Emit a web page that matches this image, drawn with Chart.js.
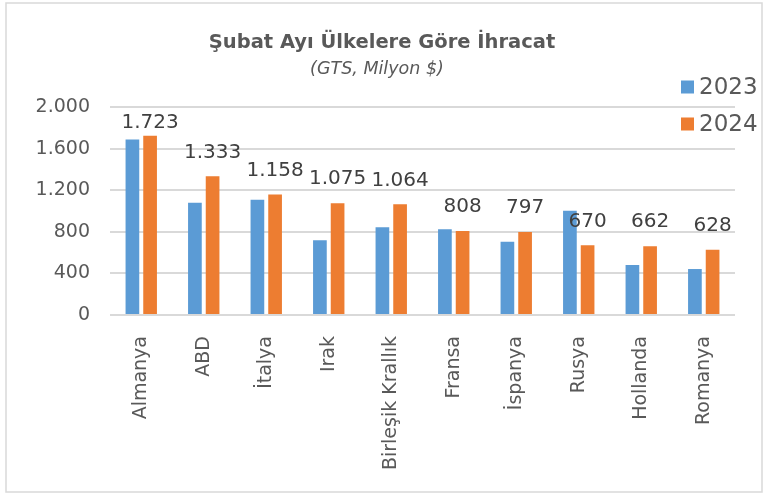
<!DOCTYPE html>
<html lang="tr">
<head>
<meta charset="utf-8">
<title>Şubat Ayı Ülkelere Göre İhracat</title>
<script src="https://cdn.jsdelivr.net/npm/chart.js@4.4.1/dist/chart.umd.min.js"></script>
<style>
  html, body { margin: 0; padding: 0; background: #fff; }
  #wrap { width: 771px; height: 495px; }
</style>
</head>
<body>
<div id="wrap"><canvas id="chart" width="771" height="495"></canvas></div>
<script>
'use strict';

// ── Data ─────────────────────────────────────────────────────────
const countries   = ['Almanya', 'ABD', 'İtalya', 'Irak', 'Birleşik Krallık', 'Fransa', 'İspanya', 'Rusya', 'Hollanda', 'Romanya'];
const exports2023 = [1688, 1080, 1109, 718, 843, 824, 705, 1003, 481, 442];
const exports2024 = [1723, 1333, 1158, 1075, 1064, 808, 797, 670, 662, 628];
const yTicks      = [0, 400, 800, 1200, 1600, 2000];
const seriesNames = ['2023', '2024'];
const titleText    = 'Şubat Ayı Ülkelere Göre İhracat';
const subtitleText = '(GTS, Milyon $)';

const BLUE   = '#5b9bd5';
const ORANGE = '#ed7d31';
const TEXT   = '#595959';
const FONT   = "'DejaVu Sans', sans-serif";

// Turkish thousands separator: 1723 -> 1.723
const fmt = v => String(v).replace(/\B(?=(\d{3})+(?!\d))/g, '.');

// ── Plugins ──────────────────────────────────────────────────────
const framePlugin = {
    id: 'frame',
    beforeDraw(chart) {
        const { ctx, width, height } = chart;
        ctx.save();
        ctx.fillStyle = '#fff';
        ctx.fillRect(0, 0, width, height);
        ctx.strokeStyle = '#d9d9d9';
        ctx.lineWidth = 1.5;
        ctx.strokeRect(6, 3, 756, 489);
        ctx.restore();
    }
};

const headerPlugin = {
    id: 'header',
    afterDraw(chart) {
        const { ctx } = chart;
        ctx.save();
        ctx.fillStyle = TEXT;
        ctx.textAlign = 'center';
        ctx.textBaseline = 'alphabetic';
        ctx.font = `bold 19.5px ${FONT}`;
        ctx.fillText(titleText, 382, 48);
        ctx.font = `italic 17.5px ${FONT}`;
        ctx.fillText(subtitleText, 377, 74);

        // legend, stacked on the right
        ctx.textAlign = 'left';
        ctx.textBaseline = 'middle';
        ctx.font = `23px ${FONT}`;
        chart.data.datasets.forEach((ds, i) => {
            const y = 87 + i * 37;
            ctx.fillStyle = ds.backgroundColor;
            ctx.fillRect(681, y - 6.5, 13, 13);
            ctx.fillStyle = TEXT;
            ctx.fillText(ds.label, 699, y + 1);
        });
        ctx.restore();
    }
};

const valueLabelPlugin = {
    id: 'valueLabels',
    afterDatasetsDraw(chart) {
        const { ctx, chartArea } = chart;
        const meta = chart.getDatasetMeta(1);
        ctx.save();
        ctx.fillStyle = '#404040';
        ctx.font = `20px ${FONT}`;
        ctx.textAlign = 'center';
        ctx.textBaseline = 'middle';
        meta.data.forEach((bar, i) => {
            const y = Math.max(bar.y - 24, chartArea.top + 16);
            ctx.fillText(fmt(exports2024[i]), bar.x, y);
        });
        ctx.restore();
    }
};

// ── Chart ────────────────────────────────────────────────────────
new Chart(document.getElementById('chart'), {
    type: 'bar',
    data: {
        labels: countries,
        datasets: [
            { label: seriesNames[0], data: exports2023, backgroundColor: BLUE },
            { label: seriesNames[1], data: exports2024, backgroundColor: ORANGE },
        ]
    },
    options: {
        responsive: false,
        animation: false,
        categoryPercentage: 0.566,
        barPercentage: 0.774,
        layout: { padding: { top: 107, right: 36, left: 0, bottom: 0 } },
        plugins: {
            legend: { display: false },
            title: { display: false },
            tooltip: { enabled: false }
        },
        scales: {
            x: {
                grid: { display: false },
                border: { display: false },
                ticks: {
                    color: TEXT,
                    font: { family: FONT, size: 19 },
                    minRotation: 90,
                    maxRotation: 90,
                    autoSkip: false,
                    padding: 13
                },
                afterFit: s => { s.height = 180; }
            },
            y: {
                min: 0,
                max: 2000,
                afterBuildTicks: s => { s.ticks = yTicks.map(v => ({ value: v })); },
                afterFit: s => { s.width = 110; },
                grid: { color: '#d9d9d9', lineWidth: 2, drawTicks: false },
                border: { display: false },
                ticks: {
                    color: TEXT,
                    font: { family: FONT, size: 19 },
                    padding: 20,
                    callback: v => fmt(v)
                }
            }
        }
    },
    plugins: [framePlugin, headerPlugin, valueLabelPlugin]
});
</script>
</body>
</html>
